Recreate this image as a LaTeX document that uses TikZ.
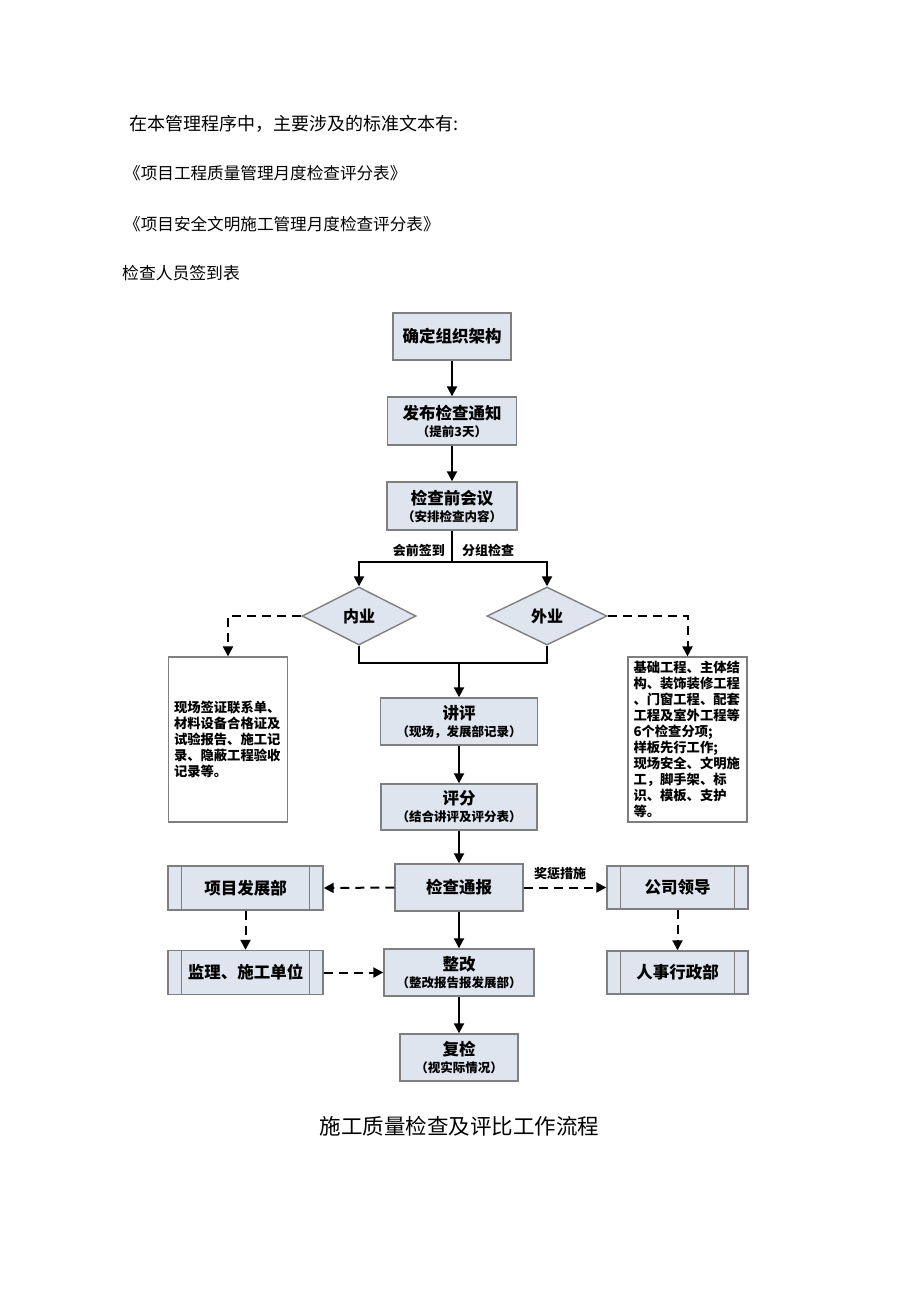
\documentclass[tikz,border=0pt]{standalone}
\usepackage{fontspec}
\setmainfont{Noto Sans CJK SC}
\usetikzlibrary{arrows.meta,shapes.geometric}
\definecolor{boxfill}{HTML}{DFE5EF}
\definecolor{boxline}{HTML}{7F7F7F}
\tikzset{
  flowbox/.style={draw=boxline, fill=boxfill, line width=1.4pt, inner sep=0pt, align=center, font=\bfseries\fontsize{12.5}{17}\selectfont},
  textbox/.style={draw=boxline, fill=white, line width=1.2pt, inner sep=0pt, text width=112pt, align=left, font=\bfseries\fontsize{13.3}{16}\selectfont},
  decision/.style={draw=boxline, fill=boxfill, line width=1.4pt, shape=diamond, aspect=2, inner sep=0pt, font=\bfseries\fontsize{16}{18}\selectfont},
  conn/.style={line width=2pt, black},
  arr/.style={conn, -{Triangle[length=10pt,width=10pt]}},
  darr/.style={conn, dash pattern=on 9pt off 6pt, -{Triangle[length=10pt,width=10pt]}},
  lbl/.style={font=\bfseries\fontsize{13}{15}\selectfont, inner sep=0pt},
  plain/.style={inner sep=0pt, anchor=west}
}
\newcommand{\mainline}[1]{{\fontsize{16.5}{17}\selectfont #1}}
\newcommand{\subline}[1]{{\fontsize{12.5}{17}\selectfont #1}}
\begin{document}
\begin{tikzpicture}[x=1pt,y=-1pt]
\useasboundingbox (0,0) rectangle (920,1301);
\fill[white] (0,0) rectangle (920,1301);

% header texts
\node[plain, font=\fontsize{18}{20}\selectfont] (h1) at (129,124) {在本管理程序中，主要涉及的标准文本有:};
\node[plain, font=\fontsize{16.6}{20}\selectfont] (h2) at (124,173) {《项目工程质量管理月度检查评分表》};
\node[plain, font=\fontsize{16.6}{20}\selectfont] (h3) at (124,224) {《项目安全文明施工管理月度检查评分表》};
\node[plain, font=\fontsize{16.8}{20}\selectfont] (h4) at (122,273) {检查人员签到表};

% main boxes
\node[flowbox, minimum width=118pt, minimum height=47pt] (b1) at (452,336.5) {\mainline{确定组织架构}};
\node[flowbox, minimum width=129pt, minimum height=48pt] (b2) at (452,421) {\mainline{发布检查通知}\\\subline{（提前3天）}};
\node[flowbox, minimum width=130pt, minimum height=48pt] (b3) at (452,506) {\mainline{检查前会议}\\\subline{（安排检查内容）}};

\node[decision, minimum width=114pt, minimum height=58pt] (d1) at (359,616) {内业};
\node[decision, minimum width=120pt, minimum height=58pt] (d2) at (547,616) {外业};

\node[textbox, minimum width=119pt, minimum height=165pt] (lb) at (228,739.5) {\hspace*{2pt}现场签证联系单、\\\hspace*{2pt}材料设备合格证及\\\hspace*{2pt}试验报告、施工记\\\hspace*{2pt}录、隐蔽工程验收\\\hspace*{2pt}记录等。};
\node[textbox, minimum width=119pt, minimum height=165pt] (rb) at (687.5,739.5) {\hspace*{2pt}基础工程、主体结\\\hspace*{2pt}构、装饰装修工程\\\hspace*{2pt}、门窗工程、配套\\\hspace*{2pt}工程及室外工程等\\\hspace*{2pt}6个检查分项;\\\hspace*{2pt}样板先行工作;\\\hspace*{2pt}现场安全、文明施\\\hspace*{2pt}工，脚手架、标\\\hspace*{2pt}识、模板、支护\\\hspace*{2pt}等。};

\node[flowbox, minimum width=157pt, minimum height=47pt] (jp) at (459,721.5) {\mainline{讲评}\\\subline{（现场，发展部记录）}};
\node[flowbox, minimum width=156pt, minimum height=46pt] (pf) at (459,807) {\mainline{评分}\\\subline{（结合讲评及评分表）}};
\node[flowbox, minimum width=128pt, minimum height=47pt] (tb) at (459,887.5) {\mainline{检查通报}};
\node[flowbox, minimum width=150pt, minimum height=47pt] (zg) at (459,972.5) {\mainline{整改}\\\subline{（整改报告报发展部）}};
\node[flowbox, minimum width=118pt, minimum height=47pt] (fj) at (459,1057.5) {\mainline{复检}\\\subline{（视实际情况）}};

\node[flowbox, minimum width=155pt, minimum height=44pt] (xm) at (245.5,888) {\mainline{项目发展部}};
\node[flowbox, minimum width=155pt, minimum height=44pt] (jl) at (245.5,972.5) {\mainline{监理、施工单位}};
\node[flowbox, minimum width=141pt, minimum height=43pt] (gs) at (677.5,887.5) {\mainline{公司领导}};
\node[flowbox, minimum width=141pt, minimum height=43pt] (rs) at (677.5,972.5) {\mainline{人事行政部}};

% predefined-process side bars
\foreach \n in {xm,jl,gs,rs}{
  \draw[boxline, line width=1.2pt] ([xshift=14.5pt]\n.north west) -- ([xshift=14.5pt]\n.south west);
  \draw[boxline, line width=1.2pt] ([xshift=-14.5pt]\n.north east) -- ([xshift=-14.5pt]\n.south east);
}

% connectors
\draw[arr] (b1) -- (b2);
\draw[arr] (b2) -- (b3);
\coordinate (split) at (452,562);
\draw[conn] (b3.south) -- (split);
\draw[arr] (split) -| (d1.north);
\draw[arr] (split) -| (d2.north);
\node[lbl, anchor=east] (l1) at (445,550) {会前签到};
\node[lbl, anchor=west] (l2) at (462,550) {分组检查};

\coordinate (merge) at (459,663);
\draw[conn] (d1.south) |- (merge);
\draw[conn] (d2.south) |- (merge);
\draw[arr] (merge) -- (jp.north);

\draw[darr] (d1.west) -| (lb.north);
\draw[darr] (d2.east) -| (rb.north);

\draw[arr] (jp) -- (pf);
\draw[arr] (pf) -- (tb);
\draw[arr] (tb) -- (zg);
\draw[arr] (zg) -- (fj);

\draw[darr] (tb.west) -- (xm.east);
\draw[darr] (xm.south) -- (jl.north);
\draw[darr] (jl.east) -- (zg.west);
\draw[darr] (tb.east) -- (gs.west);
\node[lbl] (jc) at (560,874) {奖惩措施};
\draw[darr] (gs.south) -- (rs.north);

% caption
\node[inner sep=0pt, font=\fontsize{21.5}{24}\selectfont] (cap) at (459.5,1126) {施工质量检查及评比工作流程};
\end{tikzpicture}
\end{document}
